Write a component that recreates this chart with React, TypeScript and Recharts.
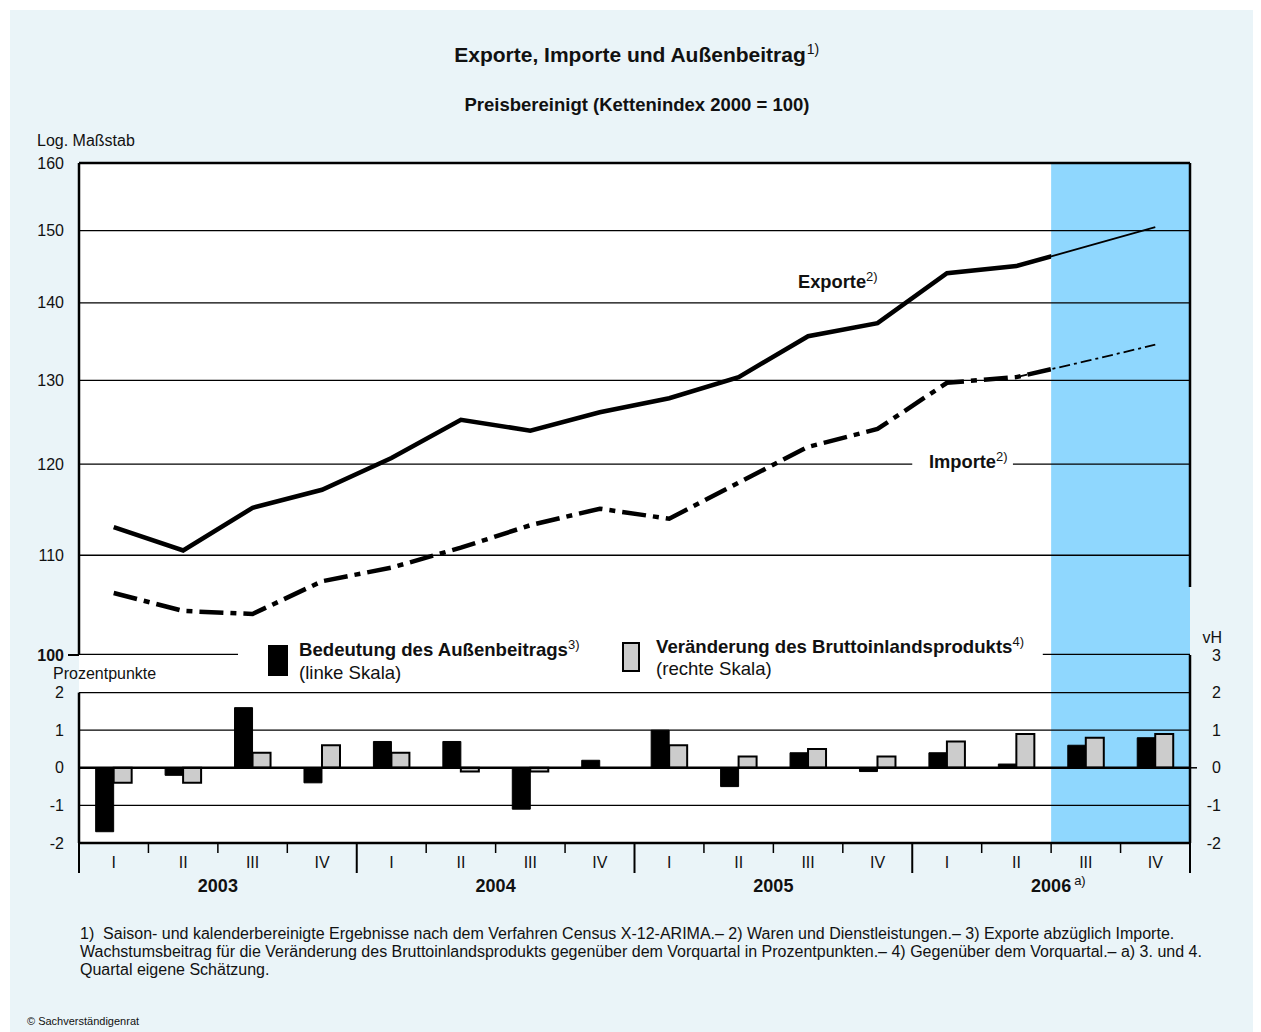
import React from 'react';
import { LineChart, Line, BarChart, Bar, XAxis, YAxis, ReferenceLine, ReferenceArea } from 'recharts';

const FONT = '"Liberation Sans", Arial, Helvetica, sans-serif';
const BLUE = '#8FD7FE';
const BG = '#EAF4F8';

const quarterLabels = ['I', 'II', 'III', 'IV'];
const yearLabels = ['2003', '2004', '2005', '2006'];
const categories = [
  '2003 I', '2003 II', '2003 III', '2003 IV',
  '2004 I', '2004 II', '2004 III', '2004 IV',
  '2005 I', '2005 II', '2005 III', '2005 IV',
  '2006 I', '2006 II', '2006 III', '2006 IV',
];
// Kettenindex 2000 = 100 (log scale)
const exporte = [113.0, 110.5, 115.1, 117.1, 120.7, 125.2, 123.9, 126.1, 127.8, 130.4, 135.6, 137.3, 144.0, 145.0, 147.7, 150.5];
const importe = [106.1, 104.3, 104.0, 107.3, 108.7, 110.8, 113.2, 115.0, 113.9, 117.9, 122.0, 124.1, 129.7, 130.4, 132.4, 134.5];
// Prozentpunkte (linke Skala)
const aussenbeitrag = [-1.7, -0.2, 1.6, -0.4, 0.7, 0.7, -1.1, 0.2, 1.0, -0.5, 0.4, -0.1, 0.4, 0.1, 0.6, 0.8];
// vH (rechte Skala)
const bipVeraenderung = [-0.4, -0.4, 0.4, 0.6, 0.4, -0.1, -0.1, 0.0, 0.6, 0.3, 0.5, 0.3, 0.7, 0.9, 0.8, 0.9];

const firstEstimateIndex = 14; // 2006 III
const logTicks = [100, 110, 120, 130, 140, 150, 160];
const gridLevels = [110, 130, 140, 150];
const leftTicks = [-2, -1, 0, 1, 2];
const rightTicks = [-2, -1, 0, 1, 2, 3];
const pctGrid = [2, 1, -1];

const lineData = categories.map((c, i) => ({
  cat: c,
  pos: i + 0.5,
  exp: exporte[i],
  imp: importe[i],
  expEst: i >= firstEstimateIndex - 1 ? exporte[i] : null,
  impEst: i >= firstEstimateIndex - 1 ? importe[i] : null,
}));

const barData = categories.map((c, i) => ({
  cat: c,
  pos: i + 0.5,
  aussen: aussenbeitrag[i],
  bip: bipVeraenderung[i],
}));

const nCat = categories.length;
const quarterAxisTicks = Array.from({ length: nCat * 2 + 1 }, (_, k) => k / 2);

function LogTick(props: any) {
  const { x, y, payload } = props;
  const v = payload.value;
  const base = v === logTicks[0];
  return (
    <g>
      {base && <line x1={x - 11} x2={x} y1={y} y2={y} stroke="#000" strokeWidth={2} />}
      <text x={x - 15} y={y + 5.5} textAnchor="end" fontSize={16} fontWeight={base ? 700 : 400} fill="#111" fontFamily={FONT}>
        {v}
      </text>
    </g>
  );
}

function LeftPctTick(props: any) {
  const { x, y, payload } = props;
  return (
    <text x={x - 15} y={y + 5.5} textAnchor="end" fontSize={16} fill="#111" fontFamily={FONT}>
      {payload.value}
    </text>
  );
}

function RightPctTick(props: any) {
  const { x, y, payload } = props;
  const v = payload.value;
  return (
    <g>
      {v === 0 && <line x1={x} x2={x + 7} y1={y} y2={y} stroke="#000" strokeWidth={1.5} />}
      <text x={x + 31} y={y + 5.5} textAnchor="end" fontSize={16} fill="#111" fontFamily={FONT}>
        {v}
      </text>
      {v === rightTicks[rightTicks.length - 1] && (
        <text x={x + 32} y={y - 12.5} textAnchor="end" fontSize={16} fill="#111" fontFamily={FONT}>
          vH
        </text>
      )}
    </g>
  );
}

function QuarterTick(props: any) {
  const { x, y, payload } = props;
  const v = payload.value;
  if (Number.isInteger(v)) {
    const yearEdge = v % 4 === 0;
    const yearMid = v % 4 === 2;
    const yi = (v - 2) / 4;
    return (
      <g>
        <line x1={x} x2={x} y1={y} y2={y + (yearEdge ? 30 : 10)} stroke="#000" strokeWidth={yearEdge ? 2 : 1.5} />
        {yearMid && (
          <text x={x} y={y + 49} textAnchor="middle" fontSize={18} fontWeight={700} fill="#111" fontFamily={FONT}>
            {yearLabels[yi]}
          </text>
        )}
        {yearMid && yi === yearLabels.length - 1 && (
          <text x={x + 23} y={y + 42} textAnchor="start" fontSize={13} fill="#111" fontFamily={FONT}>
            a)
          </text>
        )}
      </g>
    );
  }
  const idx = Math.floor(v) % 4;
  return (
    <text x={x} y={y + 25} textAnchor="middle" fontSize={16} fill="#111" fontFamily={FONT}>
      {quarterLabels[idx]}
    </text>
  );
}

const supStyle: React.CSSProperties = { fontSize: 13, fontWeight: 400, verticalAlign: 'super', lineHeight: 0 };

export default function App() {
  return (
    <div style={{ position: 'relative', width: 1253, height: 1024, fontFamily: FONT, color: '#111' }}>
      <div style={{ position: 'absolute', left: 2, top: 2, width: 1251, height: 1022, background: BG }} />

      {/* Top panel: Exporte / Importe */}
      <div style={{ position: 'absolute', left: 0, top: 0 }}>
        <LineChart width={1253} height={700} data={lineData} margin={{ top: 155, right: 71, bottom: 53, left: 0 }}>
          <XAxis dataKey="pos" type="number" domain={[0, nCat]} allowDataOverflow hide />
          <YAxis
            type="number"
            scale="log"
            domain={[100, 160]}
            allowDataOverflow
            ticks={logTicks}
            interval={0}
            width={71}
            tickSize={0}
            tickMargin={0}
            tickLine={false}
            axisLine={{ stroke: '#000', strokeWidth: 2.5 }}
            tick={<LogTick />}
          />
          <ReferenceArea x1={0} x2={nCat} y1={100} y2={160} fill="#fff" fillOpacity={1} stroke="none" zIndex={10} />
          <Line dataKey="exp" type="linear" stroke="#000" strokeWidth={4.5} dot={false} isAnimationActive={false} zIndex={20} />
          <Line dataKey="imp" type="linear" stroke="#000" strokeWidth={4.5} strokeDasharray="24 7 6 7" dot={false} isAnimationActive={false} zIndex={20} />
          <ReferenceArea x1={firstEstimateIndex} x2={nCat} y1={100} y2={160} fill={BLUE} fillOpacity={1} stroke="none" zIndex={30} />
          {gridLevels.map((g) => (
            <ReferenceLine key={g} y={g} stroke="#000" strokeWidth={1.3} zIndex={40} />
          ))}
          <ReferenceLine segment={[{ x: 0, y: 120 }, { x: 12.0, y: 120 }]} stroke="#000" strokeWidth={1.3} zIndex={40} />
          <ReferenceLine segment={[{ x: 13.45, y: 120 }, { x: nCat, y: 120 }]} stroke="#000" strokeWidth={1.3} zIndex={40} />
          <ReferenceLine segment={[{ x: 0, y: 100 }, { x: 2.29, y: 100 }]} stroke="#000" strokeWidth={2.5} zIndex={60} />
          <ReferenceLine segment={[{ x: 13.88, y: 100 }, { x: nCat, y: 100 }]} stroke="#000" strokeWidth={2.5} zIndex={60} />
          <Line dataKey="expEst" type="linear" stroke="#000" strokeWidth={1.8} dot={false} connectNulls={false} isAnimationActive={false} zIndex={50} />
          <Line dataKey="impEst" type="linear" stroke="#000" strokeWidth={1.8} strokeDasharray="11 4 3 4" dot={false} connectNulls={false} isAnimationActive={false} zIndex={50} />
          <ReferenceLine y={160} stroke="#000" strokeWidth={2.5} zIndex={60} />
          <ReferenceLine segment={[{ x: nCat, y: 160 }, { x: nCat, y: 106.7 }]} stroke="#000" strokeWidth={2.5} zIndex={60} />
        </LineChart>
      </div>

      {/* Bottom panel: bars */}
      <div style={{ position: 'absolute', left: 0, top: 600 }}>
        <BarChart width={1253} height={300} data={barData} margin={{ top: 47, right: 0, bottom: 5, left: 0 }} barCategoryGap="24%" barGap={0}>
          <XAxis
            xAxisId="num"
            dataKey="pos"
            type="number"
            domain={[0, nCat]}
            allowDataOverflow
            ticks={quarterAxisTicks}
            interval={0}
            height={60}
            tickSize={0}
            tickMargin={0}
            tickLine={false}
            axisLine={{ stroke: '#000', strokeWidth: 2.5 }}
            tick={<QuarterTick />}
          />
          <XAxis xAxisId="cat" dataKey="cat" hide height={0} />
          <YAxis
            yAxisId="l"
            type="number"
            domain={[-2, 3]}
            allowDataOverflow
            ticks={leftTicks}
            interval={0}
            width={71}
            tickSize={0}
            tickMargin={0}
            tickLine={false}
            axisLine={false}
            tick={<LeftPctTick />}
          />
          <YAxis
            yAxisId="r"
            orientation="right"
            type="number"
            domain={[-2, 3]}
            allowDataOverflow
            ticks={rightTicks}
            interval={0}
            width={71}
            tickSize={0}
            tickMargin={0}
            tickLine={false}
            axisLine={{ stroke: '#000', strokeWidth: 2.5 }}
            tick={<RightPctTick />}
          />
          <ReferenceArea xAxisId="num" yAxisId="l" x1={0} x2={nCat} y1={-2} y2={3} fill="#fff" fillOpacity={1} stroke="none" zIndex={10} />
          <ReferenceArea xAxisId="num" yAxisId="l" x1={firstEstimateIndex} x2={nCat} y1={-2} y2={3} fill={BLUE} fillOpacity={1} stroke="none" zIndex={20} />
          {pctGrid.map((g) => (
            <ReferenceLine key={g} xAxisId="num" yAxisId="l" y={g} stroke="#000" strokeWidth={1.2} zIndex={30} />
          ))}
          <Bar xAxisId="cat" yAxisId="l" dataKey="aussen" fill="#000" stroke="#000" strokeWidth={1} isAnimationActive={false} zIndex={40} />
          <Bar xAxisId="cat" yAxisId="r" dataKey="bip" fill="#CCCCCC" stroke="#000" strokeWidth={2} isAnimationActive={false} zIndex={40} />
          <ReferenceLine xAxisId="num" yAxisId="l" y={0} stroke="#000" strokeWidth={2.5} zIndex={50} />
          <ReferenceLine xAxisId="num" yAxisId="l" segment={[{ x: 0, y: -2 }, { x: 0, y: 2 }]} stroke="#000" strokeWidth={2.5} zIndex={60} />
        </BarChart>
      </div>

      {/* Titles */}
      <div style={{ position: 'absolute', left: 322, top: 34, width: 600, textAlign: 'center', fontSize: 21, lineHeight: '25px', fontWeight: 700 }}>
        <span style={{ position: 'relative' }}>
          Exporte, Importe und Außenbeitrag
          <span style={{ position: 'absolute', left: '100%', top: -6, fontSize: 14, fontWeight: 400, whiteSpace: 'nowrap', marginLeft: 1 }}>1)</span>
        </span>
      </div>
      <div style={{ position: 'absolute', left: 329, top: 85.5, width: 600, textAlign: 'center', fontSize: 18.5, lineHeight: '22px', fontWeight: 700 }}>
        Preisbereinigt (Kettenindex 2000 = 100)
      </div>

      <div style={{ position: 'absolute', left: 29, top: 123.5, fontSize: 16, lineHeight: '18px' }}>Log. Maßstab</div>
      <div style={{ position: 'absolute', left: 45, top: 656.5, fontSize: 16, lineHeight: '18px' }}>Prozentpunkte</div>

      {/* Series labels */}
      <div style={{ position: 'absolute', left: 790, top: 262.6, fontSize: 18.3, lineHeight: '22px', fontWeight: 700, whiteSpace: 'nowrap' }}>
        Exporte<span style={supStyle}>2)</span>
      </div>
      <div style={{ position: 'absolute', left: 921, top: 442.6, fontSize: 18.3, lineHeight: '22px', fontWeight: 700, whiteSpace: 'nowrap' }}>
        Importe<span style={supStyle}>2)</span>
      </div>

      {/* Legend */}
      <div style={{ position: 'absolute', left: 260, top: 637, width: 20, height: 31, background: '#000' }} />
      <div style={{ position: 'absolute', left: 291, top: 630.5, fontSize: 18.6, lineHeight: '22px', fontWeight: 700, whiteSpace: 'nowrap' }}>
        Bedeutung des Außenbeitrags<span style={supStyle}>3)</span>
      </div>
      <div style={{ position: 'absolute', left: 291, top: 653.5, fontSize: 18.6, lineHeight: '22px', whiteSpace: 'nowrap' }}>(linke Skala)</div>

      <div style={{ position: 'absolute', left: 614, top: 634, width: 18, height: 30, background: '#CCCCCC', border: '2px solid #000', boxSizing: 'border-box' }} />
      <div style={{ position: 'absolute', left: 648, top: 627.5, fontSize: 18.6, lineHeight: '22px', fontWeight: 700, whiteSpace: 'nowrap' }}>
        Veränderung des Bruttoinlandsprodukts<span style={supStyle}>4)</span>
      </div>
      <div style={{ position: 'absolute', left: 648, top: 649.5, fontSize: 18.6, lineHeight: '22px', whiteSpace: 'nowrap' }}>(rechte Skala)</div>

      {/* Footnotes */}
      <div style={{ position: 'absolute', left: 72, top: 916.5, fontSize: 16, lineHeight: '18px', whiteSpace: 'nowrap' }}>
        1)&nbsp; Saison- und kalenderbereinigte Ergebnisse nach dem Verfahren Census X-12-ARIMA.– 2) Waren und Dienstleistungen.– 3) Exporte abzüglich Importe.
        <br />
        Wachstumsbeitrag für die Veränderung des Bruttoinlandsprodukts gegenüber dem Vorquartal in Prozentpunkten.– 4) Gegenüber dem Vorquartal.– a) 3. und 4.
        <br />
        Quartal eigene Schätzung.
      </div>
      <div style={{ position: 'absolute', left: 19, top: 1007, fontSize: 11, lineHeight: '13px', whiteSpace: 'nowrap' }}>© Sachverständigenrat</div>
    </div>
  );
}
